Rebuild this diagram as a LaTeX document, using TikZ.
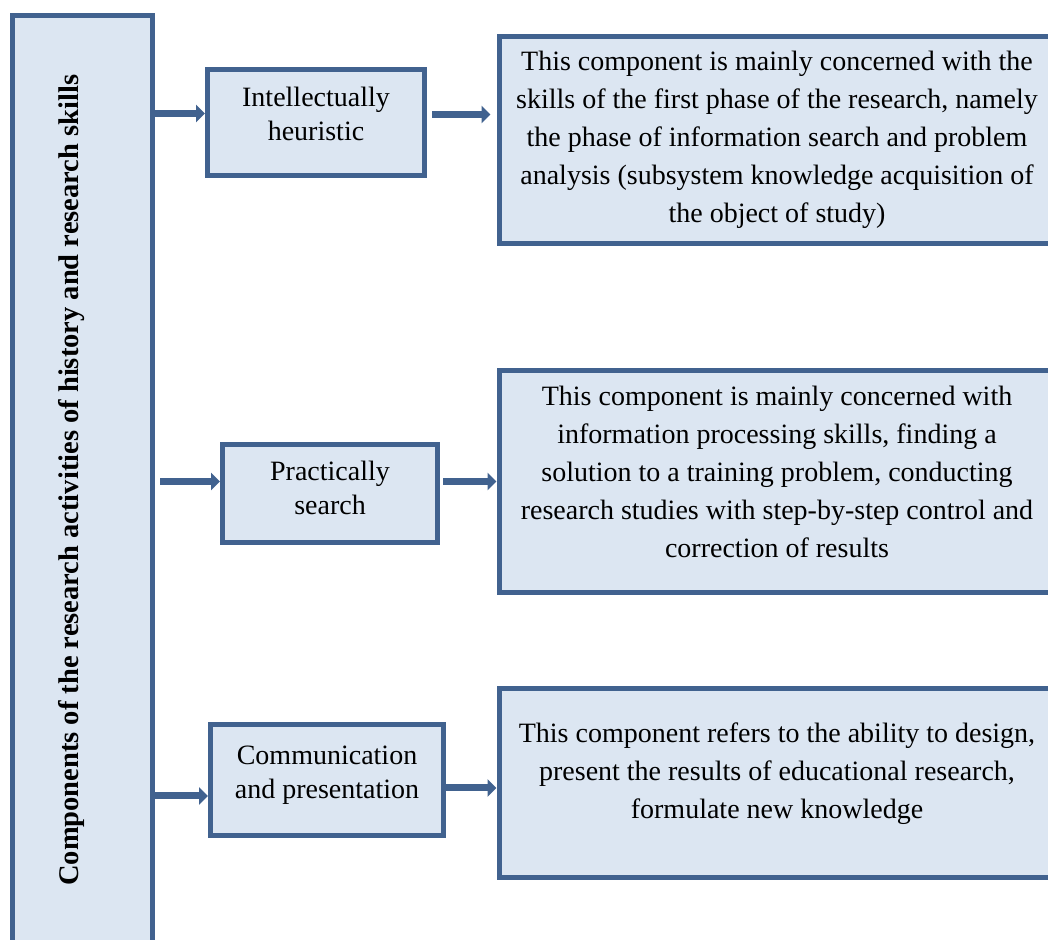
\documentclass[tikz,border=0pt]{standalone}
\usepackage{fontspec}
\setmainfont{Liberation Serif}
\usetikzlibrary{arrows.meta}
\definecolor{boxline}{HTML}{41628F}
\definecolor{boxfill}{HTML}{DCE6F2}
\tikzset{
    comp-box/.style = {draw=boxline, fill=boxfill, line width=5pt, rectangle, align=center, inner sep=0pt, font=\fontsize{28}{34}\selectfont},
    desc-box/.style = {comp-box, font=\fontsize{28}{38}\selectfont},
    main-box/.style = {comp-box, font=\fontsize{28.5}{32}\selectfont\bfseries},
    link-arrow/.style = {draw=boxline, line width=7pt, -{Triangle[length=9pt,width=17pt]}},
}
\begin{document}
\begin{tikzpicture}[x=1pt, y=1pt]
\useasboundingbox (0,0) rectangle (1048,939);
\node[main-box, minimum width=140pt, minimum height=929.5pt] (main) at (82.5,458.75)
    {\rotatebox{90}{Components of the research activities of history and research skills}\kern22pt};
\node[comp-box, minimum width=217pt, minimum height=106pt, text depth=18pt] (intel) at (316,816.5) {Intellectually\\heuristic};
\node[comp-box, minimum width=215pt, minimum height=98pt, text depth=12pt] (pract) at (330,445.5) {Practically\\search};
\node[comp-box, minimum width=233pt, minimum height=111pt, text depth=16pt] (commun) at (327,159) {Communication\\and presentation};
\node[desc-box, minimum width=556pt, minimum height=207pt] (intel-desc) at (777,799)
    {This component is mainly concerned with the\\skills of the first phase of the research, namely\\the phase of information search and problem\\analysis (subsystem knowledge acquisition of\\the object of study)};
\node[desc-box, minimum width=556pt, minimum height=222pt, text depth=20pt] (pract-desc) at (777,457.5)
    {This component is mainly concerned with\\information processing skills, finding a\\solution to a training problem, conducting\\research studies with step-by-step control and\\correction of results};
\node[desc-box, minimum width=556pt, minimum height=189pt, text depth=24pt] (commun-desc) at (777,156)
    {This component refers to the ability to design,\\present the results of educational research,\\formulate new knowledge};
\draw[link-arrow] ([yshift=9pt]intel.west -| main.east) -- ([yshift=9pt]intel.west);
\draw[link-arrow, shorten <=5pt, shorten >=6pt] ([yshift=8pt]intel.east) -- ([yshift=8pt]intel.east -| intel-desc.west);
\draw[link-arrow, shorten <=5pt] (main.east |- pract-desc.west) -- (pract.west |- pract-desc.west);
\draw[link-arrow, shorten <=3pt] (pract.east |- pract-desc.west) -- (pract-desc.west);
\draw[link-arrow] ([yshift=-16pt]commun.west -| main.east) -- ([yshift=-16pt]commun.west);
\draw[link-arrow] ([yshift=-8pt]commun.east) -- ([yshift=-8pt]commun.east -| commun-desc.west);
\end{tikzpicture}
\end{document}
